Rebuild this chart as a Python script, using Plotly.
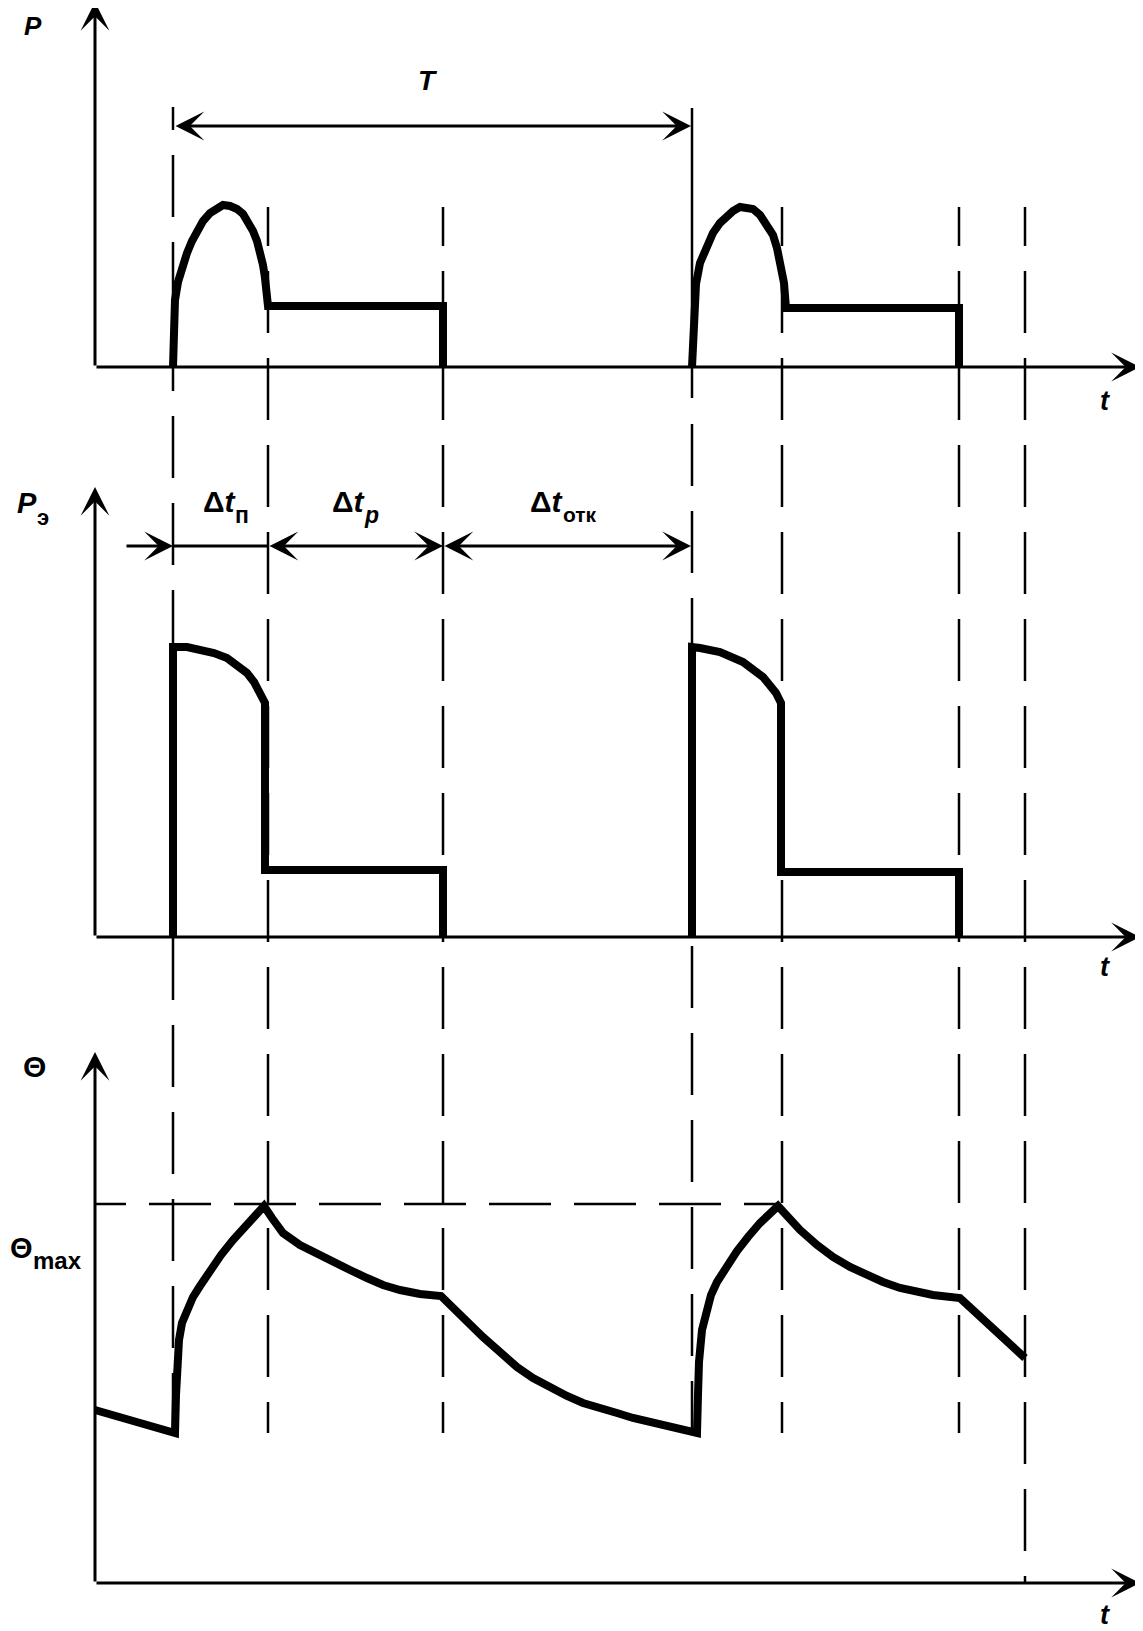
import plotly.graph_objects as go

W, H = 1143, 1631

# ---------------- chart data (arbitrary units) ----------------
# characteristic instants on the common time axis
pulse_start = [7.8, 59.7]    # start of current pulse (Δt_п begins)
heat_end = [17.3, 68.7]      # end of Δt_п / start of Δt_р
pulse_off = [34.8, 86.4]     # end of Δt_р / pause Δt_отк begins
last_mark = 93.0             # extra marker line at the right
t_end = 104.5                # end of the time axes

# panel 1 : P(t)
P1_t = [7.8, 7.85, 8.0, 8.3, 8.7, 9.2, 9.7, 10.2, 10.8, 11.5, 12.2, 12.8, 13.5, 14.2, 14.8,
        15.3, 15.8, 16.2, 16.5, 16.8, 17.0, 17.2, 17.3, 34.8, 34.8]
P1_v = [0, 3.2, 6.7, 8.5, 10.0, 11.4, 12.6, 13.7, 14.6, 15.4, 15.9, 16.2, 16.1, 15.8, 15.3,
        14.6, 13.6, 12.6, 11.5, 10.2, 8.9, 7.4, 6.1, 6.1, 0]
P2_t = [59.7, 59.8, 59.9, 60.1, 60.5, 61.1, 61.8, 62.5, 63.2, 63.8, 64.5, 65.2, 65.8, 66.5,
        67.1, 67.8, 68.2, 68.6, 68.9, 69.1, 86.4, 86.4]
P2_v = [0, 3.7, 5.7, 8.3, 10.4, 12.0, 13.4, 14.4, 15.1, 15.6, 16.0, 16.0, 15.8, 15.2,
        14.4, 13.2, 11.9, 10.2, 8.4, 5.9, 5.9, 0]

# panel 2 : P_э(t)
PE1_t = [7.8, 7.8, 9.2, 10.5, 11.9, 13.2, 14.3, 15.2, 15.9, 16.5, 17.0, 17.0, 34.8, 34.8]
PE1_v = [0, 29.0, 29.0, 28.8, 28.4, 27.9, 27.2, 26.4, 25.5, 24.4, 23.4, 6.7, 6.7, 0]
PE2_t = [59.7, 59.7, 60.5, 62.5, 64.8, 66.8, 68.1, 68.6, 68.6, 86.4, 86.4]
PE2_v = [0, 29.0, 28.9, 28.5, 27.5, 26.0, 24.4, 23.4, 6.5, 6.5, 0]

# panel 3 : Θ(t)
TH_t = [0.0, 4.0,
        8.0, 8.1, 8.2, 8.4, 8.7, 9.2, 9.8, 10.5, 11.5, 12.6, 13.8, 15.3,
        16.9, 17.7, 18.8, 20.5, 22.2, 23.8, 25.5, 27.2, 28.8, 30.5, 32.5,
        34.6, 36.0, 37.2, 38.8, 40.5, 42.2, 43.8, 45.5, 47.2, 48.8, 50.5, 52.2, 53.8, 55.5, 57.7,
        60.2, 60.3, 60.4, 60.7, 61.1, 61.6, 62.2, 63.2, 64.2, 65.3, 66.5,
        68.3, 69.4, 70.5, 72.2, 73.8, 75.5, 77.2, 78.8, 80.5, 82.2, 83.8,
        86.5, 93.0]
TH_v = [17.3, 16.2,
        15.0, 18.8, 21.8, 24.3, 26.0, 27.3, 28.6, 29.7, 31.3, 32.8, 34.3, 36.0,
        37.7, 36.5, 35.0, 33.8, 32.9, 32.1, 31.3, 30.5, 29.8, 29.3, 28.9,
        28.7, 27.3, 26.0, 24.6, 23.1, 21.6, 20.5, 19.5, 18.7, 18.0, 17.4, 17.0, 16.5, 16.1, 15.6,
        15.0, 18.8, 22.1, 25.3, 27.3, 28.8, 30.1, 31.8, 33.2, 34.6, 36.0,
        37.7, 36.4, 35.3, 33.8, 32.6, 31.6, 30.8, 30.1, 29.5, 29.1, 28.8,
        28.5, 22.5]
theta_max = 37.9

# axis heights (top of each vertical axis arrow)
P_axis_top = 36.5
PE_axis_top = 45.0
TH_axis_top = 53.1

# ---------------- layout geometry (pixels of the page) ----------------
OFF = 8               # default page margin of the html body
FW, FH = W - OFF, H - OFF
X0_PX = 95            # page x pixel of t = 0
SCALE = 10.0          # pixels per unit (both directions)
BASE = {"y": 367, "y2": 937, "y3": 1583}   # page pixel row of each panel's baseline


def pxx(px):
    return (px - OFF) / FW


def pxy(py):
    return 1 - (py - OFF) / FH


def yrange(base):
    b = base - OFF
    return [(b - FH) / SCALE, b / SCALE]


fig = go.Figure()
LW = 8
for t, v, yax in [(P1_t, P1_v, "y"), (P2_t, P2_v, "y"),
                  (PE1_t, PE1_v, "y2"), (PE2_t, PE2_v, "y2"),
                  (TH_t, TH_v, "y3")]:
    fig.add_trace(go.Scatter(x=t, y=v, yaxis=yax, xaxis="x", mode="lines",
                             line=dict(color="black", width=LW),
                             hoverinfo="skip", showlegend=False))

shapes = []
annotations = []


def arrow(x_tail, y_tail, x_head, y_head, yref, both=False, width=3, size=1.6):
    a = dict(x=x_head, y=y_head, ax=x_tail, ay=y_tail, xref="x", yref=yref,
             axref="x", ayref=yref, text="", showarrow=True, arrowhead=3,
             arrowsize=size, arrowwidth=width, arrowcolor="black", standoff=0)
    if both:
        a.update(arrowside="end+start", startarrowhead=3, startarrowsize=size,
                 startstandoff=0)
    return a


# axes with arrows
for yref, top in [("y", P_axis_top), ("y2", PE_axis_top), ("y3", TH_axis_top)]:
    annotations.append(arrow(0, 0, 0, top, yref))
    annotations.append(arrow(0, 0, t_end, 0, yref))


# dashed marker lines
def dash_pattern(first):
    parts = []
    if first:
        parts.append(f"{first}px,25px")
    parts += ["62px,25px"] * 20
    return ",".join(parts)


marks = [
    (pulse_start[0], 155, 1433, 0),
    (heat_end[0], 207, 1433, 39),
    (pulse_off[0], 207, 1433, 39),
    (pulse_start[1], 424, 1433, 0),
    (heat_end[1], 207, 1433, 39),
    (pulse_off[1], 207, 1433, 39),
    (last_mark, 207, 1583, 39),
]
for t, top, bot, first in marks:
    shapes.append(dict(type="line", xref="x", yref="paper", x0=t, x1=t,
                       y0=pxy(top), y1=pxy(bot),
                       line=dict(color="black", width=2.5, dash=dash_pattern(first))))

# solid extension lines of the period T
shapes.append(dict(type="line", xref="x", yref="y", x0=pulse_start[0], x1=pulse_start[0],
                   y0=26.0, y1=23.7, line=dict(color="black", width=2.5)))
shapes.append(dict(type="line", xref="x", yref="y", x0=pulse_start[1], x1=pulse_start[1],
                   y0=25.9, y1=-3.1, line=dict(color="black", width=2.5)))

# Θmax dashed level
shapes.append(dict(type="line", xref="x", yref="y3", x0=0, x1=68.3, y0=theta_max, y1=theta_max,
                   line=dict(color="black", width=2.5,
                             dash="31px,23px," + ",".join(["62px,23px"] * 12))))

# period T dimension arrow
T_level = 24.1
annotations.append(arrow(pulse_start[0] + 0.1, T_level, pulse_start[1] - 0.1, T_level, "y", both=True))

# Δt dimension arrows (panel 2)
D_level = 39.1
annotations.append(arrow(3.0, D_level, pulse_start[0], D_level, "y2"))
shapes.append(dict(type="line", xref="x", yref="y2", x0=pulse_start[0], x1=heat_end[0],
                   y0=D_level, y1=D_level, line=dict(color="black", width=3)))
annotations.append(arrow(heat_end[0], D_level, pulse_off[0], D_level, "y2", both=True))
annotations.append(arrow(pulse_off[0], D_level, pulse_start[1] - 0.1, D_level, "y2", both=True))

# ---------------- texts ----------------
FONT = "Liberation Sans, Arial, sans-serif"


def label(text, px, py, size, anchor="center", vanchor="middle"):
    annotations.append(dict(text=text, x=pxx(px), y=pxy(py), xref="paper", yref="paper",
                            xanchor=anchor, yanchor=vanchor, showarrow=False,
                            font=dict(family=FONT, size=size, color="black")))


label("<b><i>P</i></b>", 33, 9, 26, vanchor="top")
label("<b><i>T</i></b>", 428, 80, 28)
label("<b><i>t</i></b>", 1105, 401, 27)

label("<b><i>P</i></b>", 27, 503, 29)
label("<b>э</b>", 35, 517, 22, "left")
label("<b>Δ<i>t</i></b>", 239, 502, 30, "right")
label("<b>п</b>", 233, 515, 23, "left")
label("<b>Δ<i>t</i></b>", 368, 502, 30, "right")
label("<b><i>р</i></b>", 362, 515, 23, "left")
label("<b>Δ<i>t</i></b>", 566, 502, 30, "right")
label("<b>отк</b>", 561, 515, 21, "left")
label("<b><i>t</i></b>", 1105, 967, 27)

label("<b>Θ</b>", 34, 1066, 30)
label("<b>Θ</b>", 8, 1248, 29, "left")
label("<b>max</b>", 31, 1260, 24, "left")
label("<b><i>t</i></b>", 1105, 1615, 27)

fig.update_layout(
    width=FW, height=FH, autosize=False,
    margin=dict(l=0, r=0, t=0, b=0, pad=0),
    paper_bgcolor="white", plot_bgcolor="white",
    showlegend=False,
    xaxis=dict(range=[-(X0_PX - OFF) / SCALE, (FW - (X0_PX - OFF)) / SCALE], visible=False,
               domain=[0, 1], fixedrange=True),
    yaxis=dict(range=yrange(BASE["y"]), visible=False, domain=[0, 1], fixedrange=True),
    yaxis2=dict(range=yrange(BASE["y2"]), visible=False, overlaying="y", anchor="x",
                fixedrange=True),
    yaxis3=dict(range=yrange(BASE["y3"]), visible=False, overlaying="y", anchor="x",
                fixedrange=True),
    shapes=shapes,
    annotations=annotations,
)

fig.write_html("out.html")
